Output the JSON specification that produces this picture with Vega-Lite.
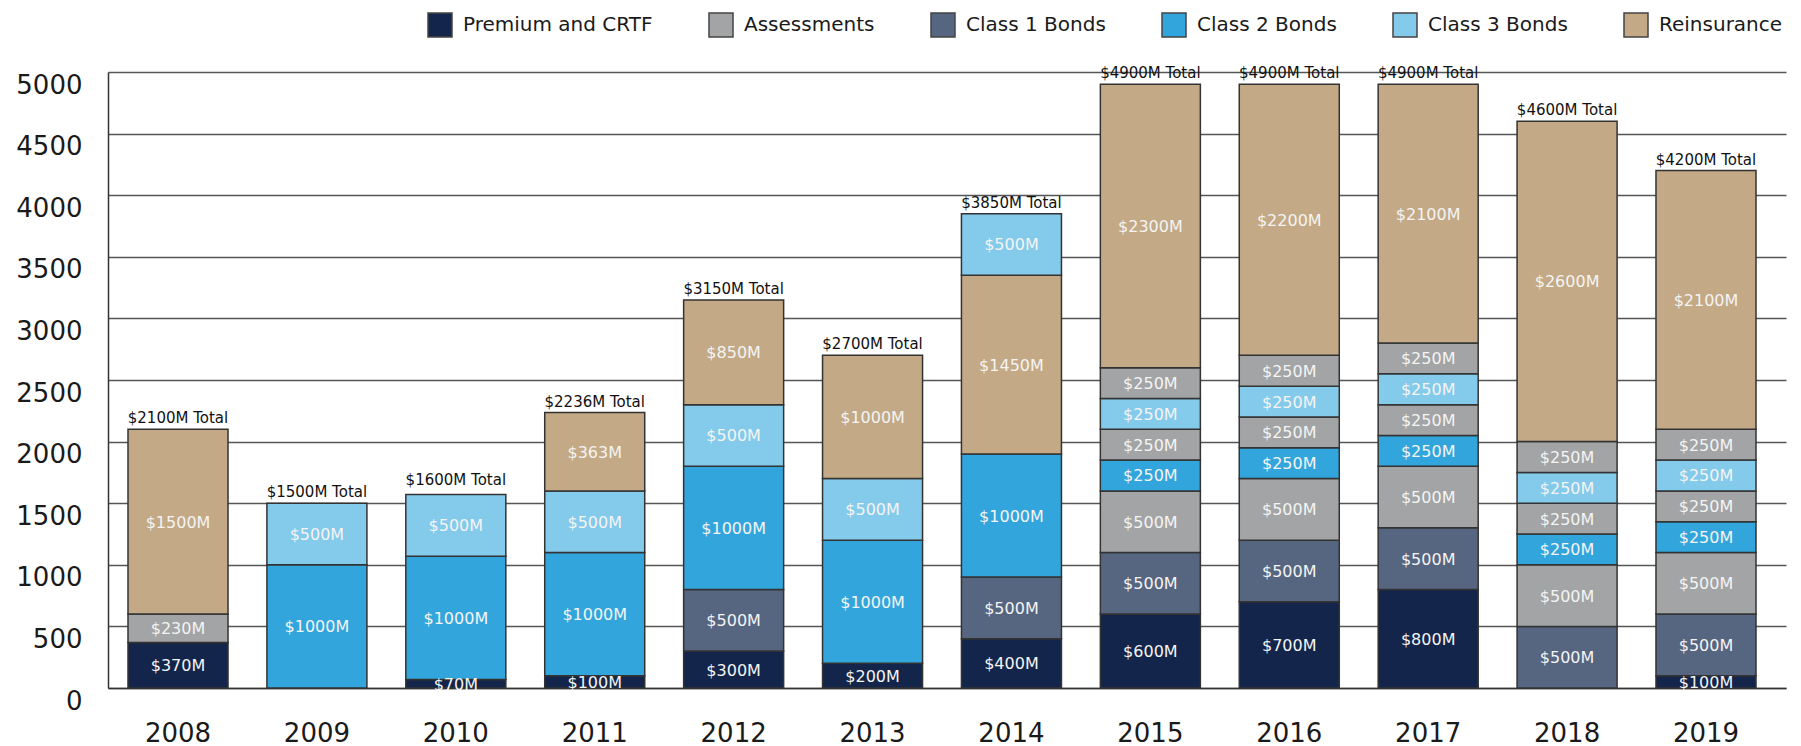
{
  "$schema": "https://vega.github.io/schema/vega-lite/v6.json",
  "width": 1678,
  "height": 616,
  "autosize": {"type": "none"},
  "padding": {"left": 108, "top": 72, "right": 15, "bottom": 58},
  "config": {"font": "DejaVu Sans", "view": {"stroke": null}},
  "datasets": {
    "segments": [
      {"year": "2008", "order": 1, "category": "Premium and CRTF", "value": 370, "label": "$370M"},
      {"year": "2008", "order": 2, "category": "Assessments", "value": 230, "label": "$230M"},
      {"year": "2008", "order": 3, "category": "Reinsurance", "value": 1500, "label": "$1500M"},
      {"year": "2009", "order": 1, "category": "Class 2 Bonds", "value": 1000, "label": "$1000M"},
      {"year": "2009", "order": 2, "category": "Class 3 Bonds", "value": 500, "label": "$500M"},
      {"year": "2010", "order": 1, "category": "Premium and CRTF", "value": 70, "label": "$70M"},
      {"year": "2010", "order": 2, "category": "Class 2 Bonds", "value": 1000, "label": "$1000M"},
      {"year": "2010", "order": 3, "category": "Class 3 Bonds", "value": 500, "label": "$500M"},
      {"year": "2011", "order": 1, "category": "Premium and CRTF", "value": 100, "label": "$100M"},
      {"year": "2011", "order": 2, "category": "Class 2 Bonds", "value": 1000, "label": "$1000M"},
      {"year": "2011", "order": 3, "category": "Class 3 Bonds", "value": 500, "label": "$500M"},
      {"year": "2011", "order": 4, "category": "Reinsurance", "value": 636, "label": "$363M"},
      {"year": "2012", "order": 1, "category": "Premium and CRTF", "value": 300, "label": "$300M"},
      {"year": "2012", "order": 2, "category": "Class 1 Bonds", "value": 500, "label": "$500M"},
      {"year": "2012", "order": 3, "category": "Class 2 Bonds", "value": 1000, "label": "$1000M"},
      {"year": "2012", "order": 4, "category": "Class 3 Bonds", "value": 500, "label": "$500M"},
      {"year": "2012", "order": 5, "category": "Reinsurance", "value": 850, "label": "$850M"},
      {"year": "2013", "order": 1, "category": "Premium and CRTF", "value": 200, "label": "$200M"},
      {"year": "2013", "order": 2, "category": "Class 2 Bonds", "value": 1000, "label": "$1000M"},
      {"year": "2013", "order": 3, "category": "Class 3 Bonds", "value": 500, "label": "$500M"},
      {"year": "2013", "order": 4, "category": "Reinsurance", "value": 1000, "label": "$1000M"},
      {"year": "2014", "order": 1, "category": "Premium and CRTF", "value": 400, "label": "$400M"},
      {"year": "2014", "order": 2, "category": "Class 1 Bonds", "value": 500, "label": "$500M"},
      {"year": "2014", "order": 3, "category": "Class 2 Bonds", "value": 1000, "label": "$1000M"},
      {"year": "2014", "order": 4, "category": "Reinsurance", "value": 1450, "label": "$1450M"},
      {"year": "2014", "order": 5, "category": "Class 3 Bonds", "value": 500, "label": "$500M"},
      {"year": "2015", "order": 1, "category": "Premium and CRTF", "value": 600, "label": "$600M"},
      {"year": "2015", "order": 2, "category": "Class 1 Bonds", "value": 500, "label": "$500M"},
      {"year": "2015", "order": 3, "category": "Assessments", "value": 500, "label": "$500M"},
      {"year": "2015", "order": 4, "category": "Class 2 Bonds", "value": 250, "label": "$250M"},
      {"year": "2015", "order": 5, "category": "Assessments", "value": 250, "label": "$250M"},
      {"year": "2015", "order": 6, "category": "Class 3 Bonds", "value": 250, "label": "$250M"},
      {"year": "2015", "order": 7, "category": "Assessments", "value": 250, "label": "$250M"},
      {"year": "2015", "order": 8, "category": "Reinsurance", "value": 2300, "label": "$2300M"},
      {"year": "2016", "order": 1, "category": "Premium and CRTF", "value": 700, "label": "$700M"},
      {"year": "2016", "order": 2, "category": "Class 1 Bonds", "value": 500, "label": "$500M"},
      {"year": "2016", "order": 3, "category": "Assessments", "value": 500, "label": "$500M"},
      {"year": "2016", "order": 4, "category": "Class 2 Bonds", "value": 250, "label": "$250M"},
      {"year": "2016", "order": 5, "category": "Assessments", "value": 250, "label": "$250M"},
      {"year": "2016", "order": 6, "category": "Class 3 Bonds", "value": 250, "label": "$250M"},
      {"year": "2016", "order": 7, "category": "Assessments", "value": 250, "label": "$250M"},
      {"year": "2016", "order": 8, "category": "Reinsurance", "value": 2200, "label": "$2200M"},
      {"year": "2017", "order": 1, "category": "Premium and CRTF", "value": 800, "label": "$800M"},
      {"year": "2017", "order": 2, "category": "Class 1 Bonds", "value": 500, "label": "$500M"},
      {"year": "2017", "order": 3, "category": "Assessments", "value": 500, "label": "$500M"},
      {"year": "2017", "order": 4, "category": "Class 2 Bonds", "value": 250, "label": "$250M"},
      {"year": "2017", "order": 5, "category": "Assessments", "value": 250, "label": "$250M"},
      {"year": "2017", "order": 6, "category": "Class 3 Bonds", "value": 250, "label": "$250M"},
      {"year": "2017", "order": 7, "category": "Assessments", "value": 250, "label": "$250M"},
      {"year": "2017", "order": 8, "category": "Reinsurance", "value": 2100, "label": "$2100M"},
      {"year": "2018", "order": 1, "category": "Class 1 Bonds", "value": 500, "label": "$500M"},
      {"year": "2018", "order": 2, "category": "Assessments", "value": 500, "label": "$500M"},
      {"year": "2018", "order": 3, "category": "Class 2 Bonds", "value": 250, "label": "$250M"},
      {"year": "2018", "order": 4, "category": "Assessments", "value": 250, "label": "$250M"},
      {"year": "2018", "order": 5, "category": "Class 3 Bonds", "value": 250, "label": "$250M"},
      {"year": "2018", "order": 6, "category": "Assessments", "value": 250, "label": "$250M"},
      {"year": "2018", "order": 7, "category": "Reinsurance", "value": 2600, "label": "$2600M"},
      {"year": "2019", "order": 1, "category": "Premium and CRTF", "value": 100, "label": "$100M"},
      {"year": "2019", "order": 2, "category": "Class 1 Bonds", "value": 500, "label": "$500M"},
      {"year": "2019", "order": 3, "category": "Assessments", "value": 500, "label": "$500M"},
      {"year": "2019", "order": 4, "category": "Class 2 Bonds", "value": 250, "label": "$250M"},
      {"year": "2019", "order": 5, "category": "Assessments", "value": 250, "label": "$250M"},
      {"year": "2019", "order": 6, "category": "Class 3 Bonds", "value": 250, "label": "$250M"},
      {"year": "2019", "order": 7, "category": "Assessments", "value": 250, "label": "$250M"},
      {"year": "2019", "order": 8, "category": "Reinsurance", "value": 2100, "label": "$2100M"}
    ],
    "totals": [
      {"year": "2008", "total": 2100},
      {"year": "2009", "total": 1500},
      {"year": "2010", "total": 1600},
      {"year": "2011", "total": 2236},
      {"year": "2012", "total": 3150},
      {"year": "2013", "total": 2700},
      {"year": "2014", "total": 3850},
      {"year": "2015", "total": 4900},
      {"year": "2016", "total": 4900},
      {"year": "2017", "total": 4900},
      {"year": "2018", "total": 4600},
      {"year": "2019", "total": 4200}
    ]
  },
  "layer": [
    {
      "data": {"name": "segments"},
      "transform": [
        {"stack": "value", "groupby": ["year"], "sort": [{"field": "order", "order": "ascending"}], "as": ["v0", "v1"]}
      ],
      "layer": [
        {
          "mark": {"type": "bar", "stroke": "#333333", "strokeWidth": 1.5},
          "encoding": {
            "x": {
              "field": "year", "type": "ordinal",
              "scale": {"paddingInner": 0.28, "paddingOuter": 0.18, "align": 0.4},
              "axis": {"title": null, "labelAngle": 0, "labelFontSize": 26, "labelPadding": 32, "ticks": false, "tickSize": 0, "domainColor": "#333333", "domainWidth": 1.5, "labelColor": "#1a1a1a", "grid": false}
            },
            "y": {
              "field": "v0", "type": "quantitative",
              "scale": {"domain": [0, 5000], "nice": false},
              "axis": {"title": null, "format": "d", "values": [0, 500, 1000, 1500, 2000, 2500, 3000, 3500, 4000, 4500, 5000], "grid": true, "gridColor": "#555555", "gridWidth": 1.5, "domain": true, "domainColor": "#333333", "domainWidth": 1.5, "ticks": false, "tickSize": 0, "labelFontSize": 26, "labelColor": "#1a1a1a", "labelPadding": 26, "labelOffset": 13}
            },
            "y2": {"field": "v1"},
            "color": {
              "field": "category", "type": "nominal",
              "scale": {
                "domain": ["Premium and CRTF", "Assessments", "Class 1 Bonds", "Class 2 Bonds", "Class 3 Bonds", "Reinsurance"],
                "range": ["#13254A", "#A2A4A5", "#566580", "#32A6DC", "#84CAEB", "#C3A985"]
              },
              "legend": {"orient": "none", "legendX": 319, "legendY": -60, "direction": "horizontal", "title": null, "symbolType": "square", "symbolSize": 576, "symbolStrokeColor": "#444444", "symbolStrokeWidth": 1.5, "symbolOpacity": 1, "labelFontSize": 20, "labelLimit": 0, "labelColor": "#1a1a1a", "columnPadding": 53, "labelOffset": 10}
            }
          }
        },
        {
          "transform": [{"calculate": "(datum.v0 + datum.v1) / 2", "as": "mid"}],
          "mark": {"type": "text", "color": "#f4f4f4", "fontSize": 16, "dy": 1},
          "encoding": {
            "x": {"field": "year", "type": "ordinal"},
            "y": {"field": "mid", "type": "quantitative"},
            "text": {"field": "label"}
          }
        }
      ]
    },
    {
      "data": {"name": "totals"},
      "transform": [{"calculate": "'$' + datum.total + 'M Total'", "as": "t"}],
      "mark": {"type": "text", "fontSize": 15, "baseline": "alphabetic", "dy": -6, "color": "#111111"},
      "encoding": {
        "x": {"field": "year", "type": "ordinal"},
        "y": {"field": "total", "type": "quantitative"},
        "text": {"field": "t"}
      }
    }
  ]
}
